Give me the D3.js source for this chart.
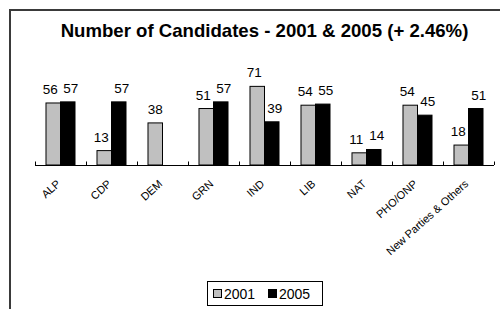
<!DOCTYPE html>
<html><head><meta charset="utf-8">
<script src="https://cdn.jsdelivr.net/npm/d3@7/dist/d3.min.js"></script>
<style>body{margin:0;background:#fff;}svg{display:block;font-family:"Liberation Sans",Arial,sans-serif;}</style>
</head><body><svg id="c" width="500" height="309"></svg>
<script>
const categories = ["ALP","CDP","DEM","GRN","IND","LIB","NAT","PHO/ONP","New Parties & Others"];
const seriesNames = ["2001","2005"];
const values2001 = [56,13,38,51,71,54,11,54,18];
const values2005 = [57,57,null,57,39,55,14,45,51];
const seriesColors = ["#C0C0C0","#000000"];
const title = "Number of Candidates - 2001 & 2005 (+ 2.46%)";

const svg = d3.select("#c");
svg.append("rect").attr("x",10).attr("y",10).attr("width",520).attr("height",330)
  .attr("fill","#fff").attr("stroke","#3a3a3a").attr("stroke-width",2);

svg.append("text").attr("x",264.5).attr("y",37).attr("text-anchor","middle")
  .attr("font-size",18.6).attr("font-weight","bold").text(title);

const x = d3.scaleBand().domain(categories).range([35,494]).padding(0);
const xs = d3.scaleBand().domain(seriesNames).range([0,x.bandwidth()]).paddingInner(0).paddingOuter(0.758);
const y = d3.scaleLinear().domain([0,80]).range([165,76.4]);

const data = [];
categories.forEach((c,i)=>{
  [values2001[i],values2005[i]].forEach((v,j)=>{
    if(v!=null) data.push({cat:c, s:seriesNames[j], v:v, j:j, pair: values2001[i]!=null && values2005[i]!=null});
  });
});

svg.append("g").selectAll("rect").data(data).join("rect")
  .attr("x",d=>x(d.cat)+xs(d.s)).attr("width",xs.bandwidth())
  .attr("y",d=>y(d.v)).attr("height",d=>y(0)-y(d.v))
  .attr("fill",d=>seriesColors[d.j]).attr("stroke","#000").attr("stroke-width",1);

svg.append("g").selectAll("text").data(data).join("text")
  .attr("x",d=>x(d.cat)+xs(d.s)+xs.bandwidth()/2 + (d.pair ? (d.j===0?-3:3) : 0))
  .attr("y",d=>y(d.v)-9).attr("text-anchor","middle").attr("font-size",13.5)
  .attr("fill","#000").text(d=>d.v);

// axis
const ax = svg.append("g");
ax.append("line").attr("x1",35).attr("x2",494).attr("y1",165.5).attr("y2",165.5).attr("stroke","#000").attr("stroke-width",1);
const bounds = categories.map(c=>x(c)).concat([x.range()[1]]);
ax.selectAll("line.t").data(bounds).join("line").attr("class","t")
  .attr("x1",d=>Math.round(d)+0.5).attr("x2",d=>Math.round(d)+0.5).attr("y1",165).attr("y2",161.5)
  .attr("stroke","#000").attr("stroke-width",1);
ax.selectAll("text").data(categories).join("text")
  .attr("transform",d=>`translate(${x(d)+x.bandwidth()/2-2},182) rotate(-42)`)
  .attr("text-anchor","end").attr("dy","0.35em").attr("font-size",11).text(d=>d);

// legend
const lg = svg.append("g");
lg.append("rect").attr("x",207.5).attr("y",281.5).attr("width",115).attr("height",24)
  .attr("fill","#fff").attr("stroke","#000").attr("stroke-width",1);
const lx = [213.5, 268.5];
seriesNames.forEach((s,i)=>{
  lg.append("rect").attr("x",lx[i]).attr("y",289.5).attr("width",8).attr("height",8)
    .attr("fill",seriesColors[i]).attr("stroke","#000").attr("stroke-width",1);
  lg.append("text").attr("x",lx[i]+10.5).attr("y",298.5).attr("font-size",14).text(s);
});
</script></body></html>
